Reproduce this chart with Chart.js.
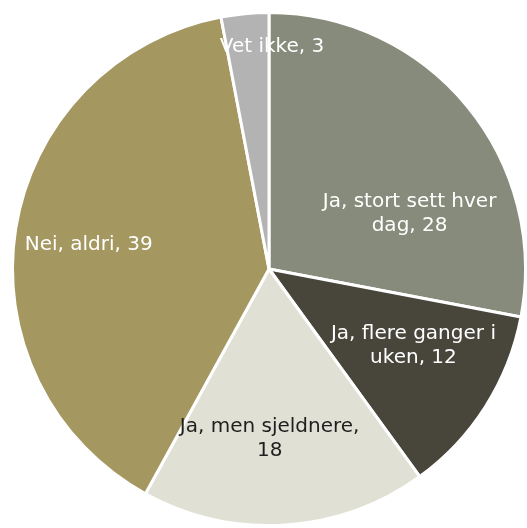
<!DOCTYPE html>
<html>
<head>
<meta charset="utf-8">
<script src="https://cdn.jsdelivr.net/npm/chart.js@4/dist/chart.umd.min.js"></script>
<style>
html,body{margin:0;padding:0;background:#fff;}
#wrap{width:527px;height:528px;position:relative;}
</style>
</head>
<body>
<div id="wrap"><canvas id="c" width="527" height="528"></canvas></div>
<script>
const categories = ["Ja, stort sett hver dag", "Ja, flere ganger i uken", "Ja, men sjeldnere", "Nei, aldri", "Vet ikke"];
const values = [28, 12, 18, 39, 3];
const labelLines = [["Ja, stort sett hver", "dag, 28"], ["Ja, flere ganger i", "uken, 12"], ["Ja, men sjeldnere,", "18"], ["Nei, aldri, 39"], ["Vet ikke, 3"]];
const colors = ["#878b7b", "#48453b", "#e1e0d4", "#a49760", "#b3b3b3"];
const labelColors = ["#ffffff", "#ffffff", "#1e1e1e", "#ffffff", "#ffffff"];
// label placement: radial fraction and nudges
const labelFrac = [0.6, 0.57, 0.66, 0.7, 0.87];
const labelNudge = [[22, 43], [21, -2], [-10, 1], [-3, 4], [24, 0]];

const labelPlugin = {
  id: 'sliceLabels',
  afterDatasetsDraw(chart) {
    const ctx = chart.ctx;
    const meta = chart.getDatasetMeta(0);
    ctx.save();
    ctx.font = '20px "DejaVu Sans"';
    ctx.textAlign = 'center';
    ctx.textBaseline = 'middle';
    meta.data.forEach((arc, i) => {
      const p = arc.getProps(['x', 'y', 'startAngle', 'endAngle', 'outerRadius'], true);
      const mid = (p.startAngle + p.endAngle) / 2;
      const r = p.outerRadius * labelFrac[i];
      const cx = p.x + Math.cos(mid) * r + labelNudge[i][0];
      const cy = p.y + Math.sin(mid) * r + labelNudge[i][1];
      const lines = labelLines[i];
      const lh = 24;
      ctx.fillStyle = labelColors[i];
      lines.forEach((t, k) => {
        ctx.fillText(t, cx, cy + (k - (lines.length - 1) / 2) * lh);
      });
    });
    ctx.restore();
  }
};

new Chart(document.getElementById('c'), {
  type: 'pie',
  data: {
    labels: categories,
    datasets: [{
      data: values,
      backgroundColor: colors,
      borderColor: '#ffffff',
      borderWidth: 3
    }]
  },
  options: {
    responsive: false,
    animation: false,
    layout: { padding: { left: 11, top: 11, right: 0, bottom: 1 } },
    plugins: { legend: { display: false }, tooltip: { enabled: false } }
  },
  plugins: [labelPlugin]
});
</script>
</body>
</html>
